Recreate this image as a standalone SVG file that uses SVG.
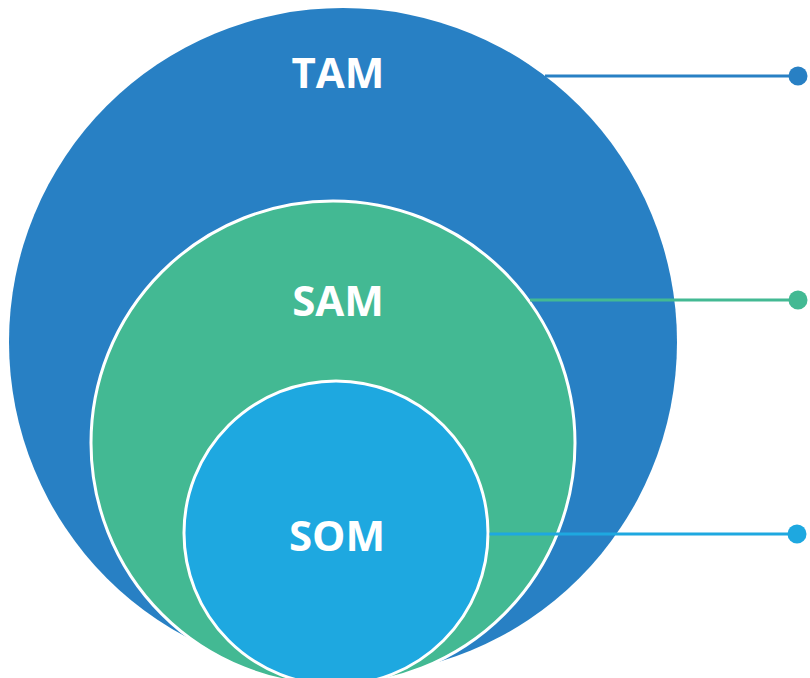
<svg xmlns="http://www.w3.org/2000/svg" width="810" height="678" viewBox="0 0 810 678">
<style>
.lbl{font-family:"Open Sans","Liberation Sans",sans-serif;font-weight:700;font-size:42px;fill:#ffffff;text-anchor:middle}
.ring{stroke:#ffffff;stroke-width:3}
</style>
<rect width="810" height="678" fill="#ffffff"/>
<g id="tam">
<circle cx="343" cy="342" r="334" fill="#2880C4"/>
<text class="lbl" x="338" y="88">TAM</text>
</g>
<g id="sam">
<circle class="ring" cx="333" cy="443" r="242" fill="#43B993"/>
<text class="lbl" x="338" y="316">SAM</text>
</g>
<g id="som">
<circle class="ring" cx="336" cy="533" r="152" fill="#1EA8E0"/>
<text class="lbl" x="337" y="551">SOM</text>
</g>
<g id="connectors" stroke-width="3">
<line x1="545" y1="76" x2="798" y2="76" stroke="#2880C4"/>
<circle cx="798" cy="76" r="9.5" fill="#2880C4"/>
<line x1="530" y1="300" x2="798" y2="300" stroke="#43B993"/>
<circle cx="798" cy="300" r="9.5" fill="#43B993"/>
<line x1="489.5" y1="534" x2="797" y2="534" stroke="#1EA8E0"/>
<circle cx="797" cy="534" r="9.5" fill="#1EA8E0"/>
</g>
</svg>
